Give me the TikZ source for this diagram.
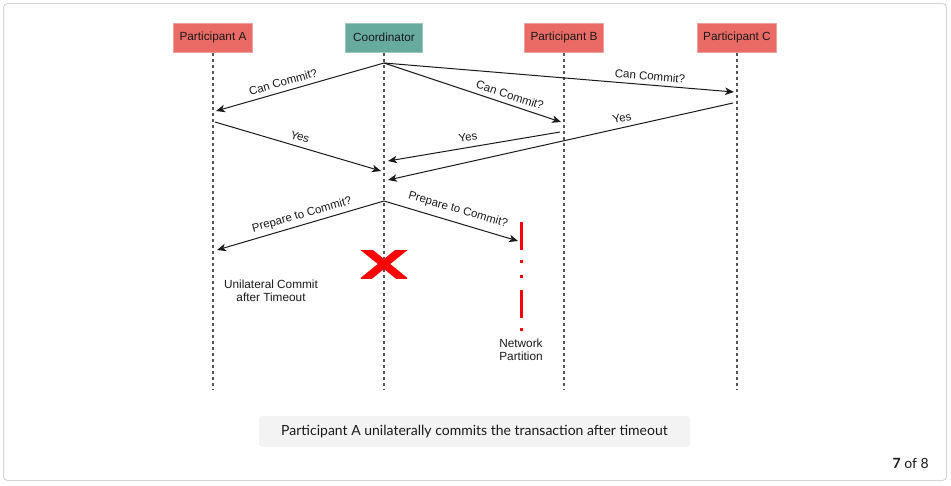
\documentclass[tikz,border=0pt]{standalone}
\usepackage{fontspec}
\setmainfont{Liberation Sans}
\newfontfamily\capfont{Lato}
\usetikzlibrary{arrows.meta}
\definecolor{partred}{HTML}{EA6B66}
\definecolor{partredb}{HTML}{F2A09D}
\definecolor{coordgreen}{HTML}{67AB9F}
\definecolor{coordgreenb}{HTML}{9CCAC1}
\definecolor{lifeline}{HTML}{555555}
\definecolor{frameline}{HTML}{D6D6D6}
\definecolor{capfill}{HTML}{F3F3F3}
\definecolor{txt}{HTML}{1A1A1A}
\begin{document}
\begin{tikzpicture}[x=1pt,y=-1pt,
  actor/.style={draw=partredb, fill=partred, line width=1pt, minimum width=79pt, minimum height=29pt, inner sep=0pt, font=\fontsize{11.8}{14}\selectfont, text=txt},
  coordbox/.style={actor, draw=coordgreenb, fill=coordgreen, minimum width=77pt},
  life/.style={draw=lifeline, line width=1.1pt, dash pattern=on 3pt off 3pt},
  msg/.style={draw=txt, line width=1pt, -{Stealth[length=9pt,width=7.5pt,inset=2.5pt]}},
  lbl/.style={font=\fontsize{11.5}{13}\selectfont, text=txt, inner sep=0pt},
  note/.style={font=\fontsize{11.8}{13.2}\selectfont, text=txt, align=center, inner sep=0pt},
  cross/.style={red, line width=7.8pt},
]
\useasboundingbox (0,0) rectangle (951,485);
\draw[frameline, line width=1pt, rounded corners=4pt] (3.5,3.5) rectangle (946.5,480.5);

% actors
\node[actor] (pa) at (213,37.5) {Participant A};
\node[coordbox] (co) at (384,37.5) {Coordinator};
\node[actor] (pb) at (564,37.5) {Participant B};
\node[actor] (pc) at (737,37.5) {Participant C};

% lifelines
\coordinate (paend) at (213,389);
\coordinate (coend) at (384,389);
\coordinate (pbend) at (564,389);
\coordinate (pcend) at (737,389);
\draw[life] (pa.south) -- (paend);
\draw[life] (co.south) -- (coend);
\draw[life] (pb.south) -- (pbend);
\draw[life] (pc.south) -- (pcend);

% message points
\coordinate (c1) at (384,63);
\coordinate (a1) at (216,111);
\coordinate (b1) at (561,122);
\coordinate (k1) at (734,92);
\coordinate (a2) at (215,122);
\coordinate (b2) at (560,132);
\coordinate (k2) at (733,103);
\coordinate (ca) at (381,171);
\coordinate (cb) at (388,161);
\coordinate (ck) at (388,180);
\coordinate (c3) at (384,201);
\coordinate (a3) at (217,250);
\coordinate (np) at (518,241);

% can commit
\draw[msg] (c1) -- (a1);
\draw[msg] (c1) -- (k1);
\draw[msg] (c1) -- (b1);
\node[lbl, rotate=16] (l1) at (283,82) {Can Commit?};
\node[lbl, rotate=-4.75] (l2) at (650,76) {Can Commit?};
\node[lbl, rotate=-18.4] (l3) at (510,95) {Can Commit?};

% yes
\draw[msg] (a2) -- (ca);
\draw[msg] (b2) -- (cb);
\draw[msg] (k2) -- (ck);
\node[lbl, rotate=-16.5] (y1) at (300,137) {Yes};
\node[lbl, rotate=9.6] (y2) at (468,137) {Yes};
\node[lbl, rotate=12.6] (y3) at (622,118) {Yes};

% prepare
\draw[msg] (c3) -- (a3);
\draw[msg] (c3) -- (np);
\node[lbl, rotate=16] (p1) at (302,215) {Prepare to Commit?};
\node[lbl, rotate=-16.3] (p2) at (458,210) {Prepare to Commit?};

% coordinator failure
\begin{scope}
\clip (360,250) rectangle (408,278);
\draw[cross] (363,247) -- (405,281);
\draw[cross] (405,247) -- (363,281);
\end{scope}

% network partition
\coordinate (npt) at (521,222);
\coordinate (npb) at (521,333);
\draw[red, line width=3pt, dash pattern=on 28pt off 10pt on 3pt off 12pt on 3pt off 12pt] (npt) -- (npb);

\node[note] (uni) at (271,290.5) {Unilateral Commit\\after Timeout};
\node[note] (net) at (521,349.5) {Network\\Partition};

% caption
\node[fill=capfill, rounded corners=3pt, minimum width=431pt, minimum height=31pt, inner sep=0pt,
      font=\capfont\fontsize{14}{16}\selectfont, text=txt] (cap) at (474.5,431.5)
      {Participant A unilaterally commits the transaction after timeout};
\node[anchor=east, inner sep=0pt, font=\capfont\fontsize{14}{16}\selectfont, text=txt] (page) at (929,463)
      {\textbf{7} of 8};
\end{tikzpicture}
\end{document}
